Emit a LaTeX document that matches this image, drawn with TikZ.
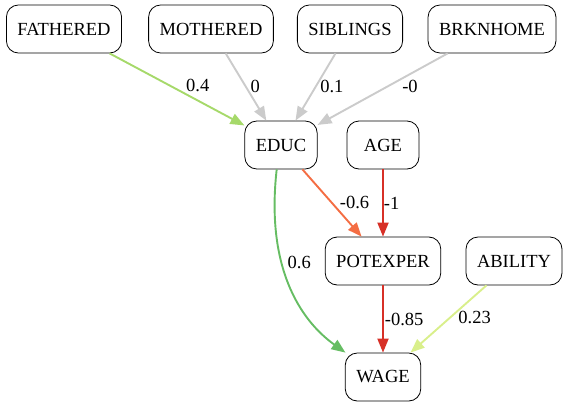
\documentclass[tikz,border=0pt]{standalone}
\usepackage{fontspec}
\setmainfont{Liberation Serif}
\usetikzlibrary{arrows.meta}
\definecolor{lgreen}{HTML}{A6D96A}
\definecolor{dgreen}{HTML}{66BD63}
\definecolor{ygreen}{HTML}{D9EF8B}
\definecolor{orng}{HTML}{F46D43}
\definecolor{dred}{HTML}{D73027}
\definecolor{lgray}{HTML}{CBCBCB}
\tikzset{
    var/.style={draw, fill=white, rounded corners=12pt, line width=0.8pt, minimum width=72pt, minimum height=48pt, inner xsep=11pt, font=\fontsize{18.5}{20}\selectfont},
    edge/.style={line width=1.9pt, -{Triangle[length=14pt,width=11pt]}},
    elabel/.style={inner sep=0pt, text=black, font=\fontsize{18.5}{20}\selectfont}
}

\begin{document}
\begin{tikzpicture}[x=1pt,y=1pt]
            \useasboundingbox (0,0) rectangle (567,-407);
            \node[var] (fathered) at (64,-29) {FATHERED};
            \node[var] (mothered) at (211,-29) {MOTHERED};
            \node[var] (siblings) at (350,-29) {SIBLINGS};
            \node[var] (brknhome) at (492,-29) {BRKNHOME};
            \node[var] (educ) at (281,-145) {EDUC};
            \node[var] (age) at (383,-145) {AGE};
            \node[var] (potexper) at (383,-261) {POTEXPER};
            \node[var] (ability) at (514,-261) {ABILITY};
            \node[var] (wage) at (383,-377) {WAGE};

            \draw[edge,lgreen] (fathered) -- node[elabel,pos=0.45,right=15pt] {0.4} (educ);
            \draw[edge,lgray] (mothered) -- node[elabel,pos=0.49,right=4pt] {0} (educ);
            \draw[edge,lgray] (siblings) -- node[elabel,pos=0.49,right=3.5pt] {0.1} (educ);
            \draw[edge,lgray] (brknhome) -- node[elabel,pos=0.46,right=13.5pt] {-0} (educ);
            \draw[edge,orng] (educ) -- node[elabel,pos=0.49,right=7.5pt] {-0.6} (potexper);
            \draw[edge,dred] (age) -- node[elabel,pos=0.5,right=0pt] {-1} (potexper);
            \draw[edge,dgreen] (educ.-100) .. controls +(-11,-97) and +(-46,33) .. node[elabel,pos=0.38,right=5pt] {0.6} (wage.147);
            \draw[edge,dred] (potexper) -- node[elabel,pos=0.5,right=1pt] {-0.85} (wage);
            \draw[edge,ygreen] (ability) -- node[elabel,pos=0.48,right=7.5pt] {0.23} (wage);

\end{tikzpicture}
\end{document}
